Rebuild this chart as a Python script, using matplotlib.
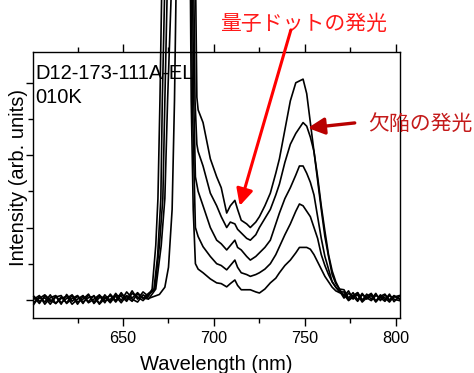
import matplotlib
matplotlib.use("Agg")
import matplotlib.pyplot as plt

# ---------------- data ----------------
wl_left = [601, 604, 607, 610, 613, 616, 619, 622, 625, 628, 631, 634, 637, 640, 643,
           646, 649, 652, 655, 658, 661, 664]
base_1 = [0.08, -0.10, 0.12, -0.05, 0.10, -0.12, 0.15, -0.04, 0.10, -0.10, 0.14, -0.06,
          0.12, -0.08, 0.16, -0.02, 0.20, 0.00, 0.25, 0.02, 0.22, 0.10]
base_2 = [-0.12, 0.10, -0.06, 0.14, -0.10, 0.08, -0.08, 0.12, -0.12, 0.10, -0.05, 0.12,
          -0.10, 0.14, -0.04, 0.18, -0.02, 0.22, 0.05, 0.20, 0.04, 0.18]
base_3 = [0.02, 0.12, -0.12, 0.06, 0.12, -0.08, 0.04, 0.14, -0.06, 0.02, 0.16, -0.10,
          0.06, 0.08, -0.08, 0.12, 0.10, -0.04, 0.18, 0.08, -0.02, 0.14]
base_4 = [0.10, -0.04, 0.06, -0.12, 0.08, 0.12, -0.10, 0.04, 0.12, -0.06, 0.06, 0.10,
          -0.12, 0.04, 0.12, -0.06, 0.14, 0.08, -0.04, 0.16, 0.06, 0.02]
base_5 = [-0.06, 0.04, 0.14, 0.00, -0.10, 0.04, 0.10, -0.12, 0.02, 0.12, -0.08, 0.02,
          0.14, -0.02, 0.02, 0.10, -0.08, 0.12, 0.02, -0.06, 0.14, 0.04]

peak_wl_1 = [666, 668, 669.2, 670.3, 671.2, 673, 678, 684, 689.0, 690.0, 690.6]
peak_I_1 = [0.3, 1.5, 2.8, 5.5, 8.3, 20, 40, 40, 20, 8.3, 5.6]
peak_wl_2 = [667, 669, 670.8, 671.6, 672.8, 675, 680, 685, 688.2, 689.0, 689.6, 690.6]
peak_I_2 = [0.3, 1.2, 2.8, 5.5, 8.3, 20, 35, 35, 20, 8.3, 5.5, 4.3]
peak_wl_3 = [667.5, 670, 671.9, 673, 674.2, 676, 680, 685, 687.7, 688.3, 688.9, 689.8]
peak_I_3 = [0.3, 1.5, 2.8, 5.5, 8.3, 20, 32, 32, 20, 8.3, 5.5, 3.4]
peak_wl_4 = [668, 671, 673, 674.5, 676.4, 678, 681, 685, 687.2, 687.7, 688.1, 689.8]
peak_I_4 = [0.3, 1.5, 2.8, 5.5, 8.3, 20, 30, 30, 20, 8.3, 5.5, 2.0]
peak_wl_5 = [670, 673, 675, 677, 678.3, 679.1, 680.5, 684, 686.7, 687.1, 687.5, 688.6, 689.8]
peak_I_5 = [0.15, 0.35, 0.9, 2.5, 5.5, 8.3, 20, 28, 20, 8.3, 5.5, 2.5, 1.0]

wl_sh = [691.3, 694, 698, 701.5, 704, 707, 709, 711.5, 713, 715, 718, 720, 723, 725,
         728, 731, 734, 736, 739, 742, 745, 747, 749, 751, 753, 755, 757, 759, 761,
         763, 765, 767, 769, 771.5, 774, 776.5, 779, 781.5, 784, 786.5, 789, 791.5,
         794, 796.5, 799, 802]
sh_1 = [5.25, 4.9, 3.9, 3.4, 3.1, 2.4, 2.6, 2.75, 2.5, 2.2, 2.1, 2.0, 2.15, 2.3,
        2.6, 2.95, 3.5, 3.9, 4.7, 5.5, 6.0, 6.05, 6.1, 5.7, 4.9, 4.1, 3.4, 2.6, 1.9,
        1.25, 0.8, 0.5, 0.3, 0.28, 0.05, 0.2, 0.0, 0.18, 0.02, 0.16, -0.04, 0.14,
        0.0, 0.16, -0.05, 0.1]
sh_2 = [4.1, 3.7, 2.95, 2.6, 2.3, 2.0, 2.15, 2.1, 1.95, 1.85, 1.7, 1.65, 1.8, 2.0,
        2.25, 2.5, 2.9, 3.2, 3.8, 4.3, 4.6, 4.75, 4.9, 4.8, 4.5, 4.1, 3.3, 2.5, 1.75,
        1.2, 0.7, 0.45, 0.3, 0.1, 0.25, 0.02, 0.2, -0.02, 0.16, 0.02, 0.18, -0.02,
        0.14, 0.0, 0.12, 0.02]
sh_3 = [3.0, 2.6, 2.0, 1.65, 1.55, 1.38, 1.5, 1.65, 1.45, 1.38, 1.2, 1.1, 1.2, 1.3,
        1.45, 1.65, 2.1, 2.4, 2.8, 3.1, 3.45, 3.7, 3.7, 3.5, 3.25, 2.9, 2.3, 1.7, 1.2,
        0.85, 0.5, 0.35, 0.22, 0.22, 0.0, 0.12, 0.2, 0.0, 0.1, 0.18, -0.04, 0.1,
        0.16, -0.02, 0.08, 0.12]
sh_4 = [1.75, 1.47, 1.2, 1.0, 0.95, 0.83, 0.95, 1.1, 0.9, 0.75, 0.7, 0.65, 0.7, 0.75,
        0.85, 1.0, 1.25, 1.47, 1.8, 2.1, 2.45, 2.65, 2.6, 2.45, 2.3, 2.0, 1.7, 1.25, 0.95,
        0.7, 0.5, 0.35, 0.25, 0.05, 0.18, 0.1, -0.04, 0.14, 0.06, -0.02, 0.12, 0.06,
        -0.04, 0.12, 0.02, -0.02]
sh_5 = [0.85, 0.75, 0.58, 0.47, 0.45, 0.36, 0.45, 0.55, 0.4, 0.28, 0.28, 0.28, 0.22, 0.19,
        0.3, 0.47, 0.6, 0.75, 0.95, 1.1, 1.3, 1.45, 1.45, 1.45, 1.4, 1.25, 1.05, 0.85, 0.65,
        0.5, 0.35, 0.25, 0.2, 0.15, -0.02, 0.08, 0.14, -0.06, 0.06, 0.12, -0.06, 0.08,
        0.06, -0.06, 0.1, 0.04]

sample_label = "D12-173-111A-EL"
temp_label = "010K"
qd_label = "量子ドットの発光"
defect_label = "欠陥の発光"
x_ticks_major = [650, 700, 750, 800]
x_ticks_minor = [625, 675, 725, 775]
y_ticks_major = [0, 2, 4, 6]
y_ticks_minor = [1, 3, 5]

# ---------------- plotting ----------------
plt.rcParams['font.family'] = ['Liberation Sans', 'DejaVu Sans']

fig = plt.figure(figsize=(4.74, 3.73), dpi=100)
ax = fig.add_axes([0.0696, 0.1475, 0.7743, 0.7131])

bases = [base_1, base_2, base_3, base_4, base_5]
peaks = [(peak_wl_1, peak_I_1), (peak_wl_2, peak_I_2), (peak_wl_3, peak_I_3),
         (peak_wl_4, peak_I_4), (peak_wl_5, peak_I_5)]
shs = [sh_1, sh_2, sh_3, sh_4, sh_5]
for b, (pw, pi), s in zip(bases, peaks, shs):
    x = list(wl_left) + list(pw) + list(wl_sh)
    y = list(b) + list(pi) + list(s)
    ax.plot(x, y, color='black', lw=1.2, clip_on=False, zorder=2)

ax.set_xlim(600.5, 802.3)
ax.set_ylim(-0.5, 6.85)
ax.set_xticks(x_ticks_major)
ax.set_xticks(x_ticks_minor, minor=True)
ax.set_yticks(y_ticks_major)
ax.set_yticks(y_ticks_minor, minor=True)
ax.set_yticklabels([])
ax.tick_params(axis='x', which='major', direction='out', length=5.5, width=1.0,
               top=True, labelsize=11.7, pad=4)
ax.tick_params(axis='x', which='minor', direction='out', length=3.5, width=1.0, top=True)
ax.tick_params(axis='y', which='major', direction='out', length=5, width=1.0, right=False)
ax.tick_params(axis='y', which='minor', direction='out', length=3.3, width=1.0, right=False)
for sp in ax.spines.values():
    sp.set_linewidth(1.0)

ax.set_xlabel("Wavelength (nm)", fontsize=14.5, labelpad=6)
ax.set_ylabel("Intensity (arb. units)", fontsize=14.5)
ax.yaxis.set_label_coords(-0.013, 0.53)

ax.text(0.006, 0.955, sample_label, transform=ax.transAxes, fontsize=14.5,
        ha='left', va='top')
ax.text(0.006, 0.865, temp_label, transform=ax.transAxes, fontsize=14.5,
        ha='left', va='top')

jp = ['Noto Sans CJK JP', 'DejaVu Sans']
ax.text(749.4, 7.62, qd_label, fontsize=15, color='#ff1a1a', ha='center', va='center',
        family=jp, clip_on=False)
ax.annotate("", xy=(714.2, 2.6), xytext=(742.3, 7.46),
            arrowprops=dict(arrowstyle='-|>', color='#ff0000', lw=2.2,
                            mutation_scale=25, shrinkA=0, shrinkB=0),
            annotation_clip=False)
ax.text(784.6, 4.86, defect_label, fontsize=15, color='#c41a1a', ha='left', va='center',
        family=jp, clip_on=False)
ax.annotate("", xy=(751.6, 4.75), xytext=(777.4, 4.89),
            arrowprops=dict(arrowstyle='-|>', color='#b80000', lw=2.4,
                            mutation_scale=25, shrinkA=0, shrinkB=0),
            annotation_clip=False)

fig.savefig("out.png", dpi=100)
